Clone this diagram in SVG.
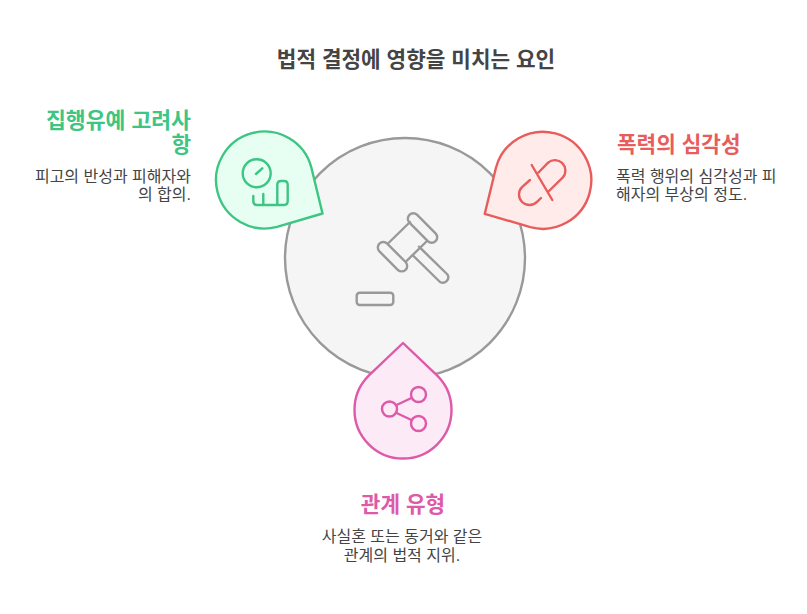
<svg xmlns="http://www.w3.org/2000/svg" width="807" height="614" viewBox="0 0 807 614">
<style>
text{font-family:"Liberation Sans","Noto Sans CJK KR",sans-serif}
.t{font-size:21.3px;font-weight:700}
.b{font-size:16px;fill:#444}
.i{fill:none;stroke-width:2.4;stroke-linecap:round;stroke-linejoin:round}
.p{stroke-width:2.4;stroke-linejoin:round}
</style>
<defs><path id="drop" d="M0 -67 L34.300 -34.300 A48.500 48.500 0 1 1 -34.300 -34.300 Z"/></defs>
<rect width="807" height="614" fill="#fff"/>
<text x="416" y="67" text-anchor="middle" class="t" style="fill:#444">법적 결정에 영향을 미치는 요인</text>
<g id="center"><circle cx="405" cy="258" r="120" fill="#f5f5f5" stroke="#999" stroke-width="2.4"/>
<g class="i" stroke="#999"><rect x="356.700" y="292.700" width="36.600" height="12.300" rx="3"/>
<rect x="404" y="222.500" width="37" height="11" rx="5.500" transform="rotate(45 422.500 228)"/>
<rect x="374" y="251.200" width="37" height="11" rx="5.500" transform="rotate(45 392.500 256.700)"/>
<path d="M410 222 L388.500 243 M426.500 241.500 L406 261.500 M419 246.700 L447.500 274.500 A5.500 5.500 0 0 1 440 282 L413 255.500"/></g></g>
<g id="n1"><use href="#drop" class="p" transform="translate(264.500 180) rotate(120)" fill="#e6fff2" stroke="#3cc583"/>
<g class="i" stroke="#3cc583"><circle cx="256.700" cy="173.300" r="14"/><path d="M256 174 L262.300 168.300 M253.300 196 V201 Q253.300 205 257 205 H284 Q287.700 205 287.700 201 V185 Q287.700 181 284 181 H281 Q277.300 181 277.300 185 V204.500 M263.300 194 V204.500"/></g></g>
<g id="n2"><use href="#drop" class="p" transform="translate(542.800 180.300) rotate(-120)" fill="#ffecea" stroke="#e85c5c"/>
<g class="i" stroke="#e85c5c"><path d="M531.700 165 L552.300 200 M549 191 L562.900 177.400 A10.500 10.500 0 0 0 548.100 162.600 L538.500 172.500 M530 180 L522 187.100 A10.500 10.500 0 0 0 537 201.900 L541 198"/></g></g>
<g id="n3"><use href="#drop" class="p" transform="translate(403 410)" fill="#fdeaf7" stroke="#de5aa8"/>
<g class="i" stroke="#de5aa8"><circle cx="389.500" cy="409" r="7.500"/><circle cx="418.500" cy="394.500" r="7.500"/><circle cx="418.500" cy="423.500" r="7.500"/><path d="M396.500 405 L411.500 398 M396.500 413 L411.500 420"/></g></g>
<g id="l1"><text class="t" x="191" y="128" text-anchor="end" style="fill:#3cc583;font-size:21.6px">집행유예 고려사</text><text class="t" x="191" y="152" text-anchor="end" style="fill:#3cc583">항</text>
<text class="b" x="191" y="182" text-anchor="end">피고의 반성과 피해자와</text><text class="b" x="191" y="200" text-anchor="end">의 합의.</text></g>
<g id="l2"><text class="t" x="617" y="152" style="fill:#e85c5c">폭력의 심각성</text>
<text class="b" x="616" y="182">폭력 행위의 심각성과 피</text><text class="b" x="616" y="200">해자의 부상의 정도.</text></g>
<g id="l3"><text class="t" x="403" y="512" text-anchor="middle" style="fill:#de5aa8">관계 유형</text>
<text class="b" x="402" y="542" text-anchor="middle">사실혼 또는 동거와 같은</text><text class="b" x="402" y="561" text-anchor="middle">관계의 법적 지위.</text></g>
<g id="connectors"/>
</svg>
